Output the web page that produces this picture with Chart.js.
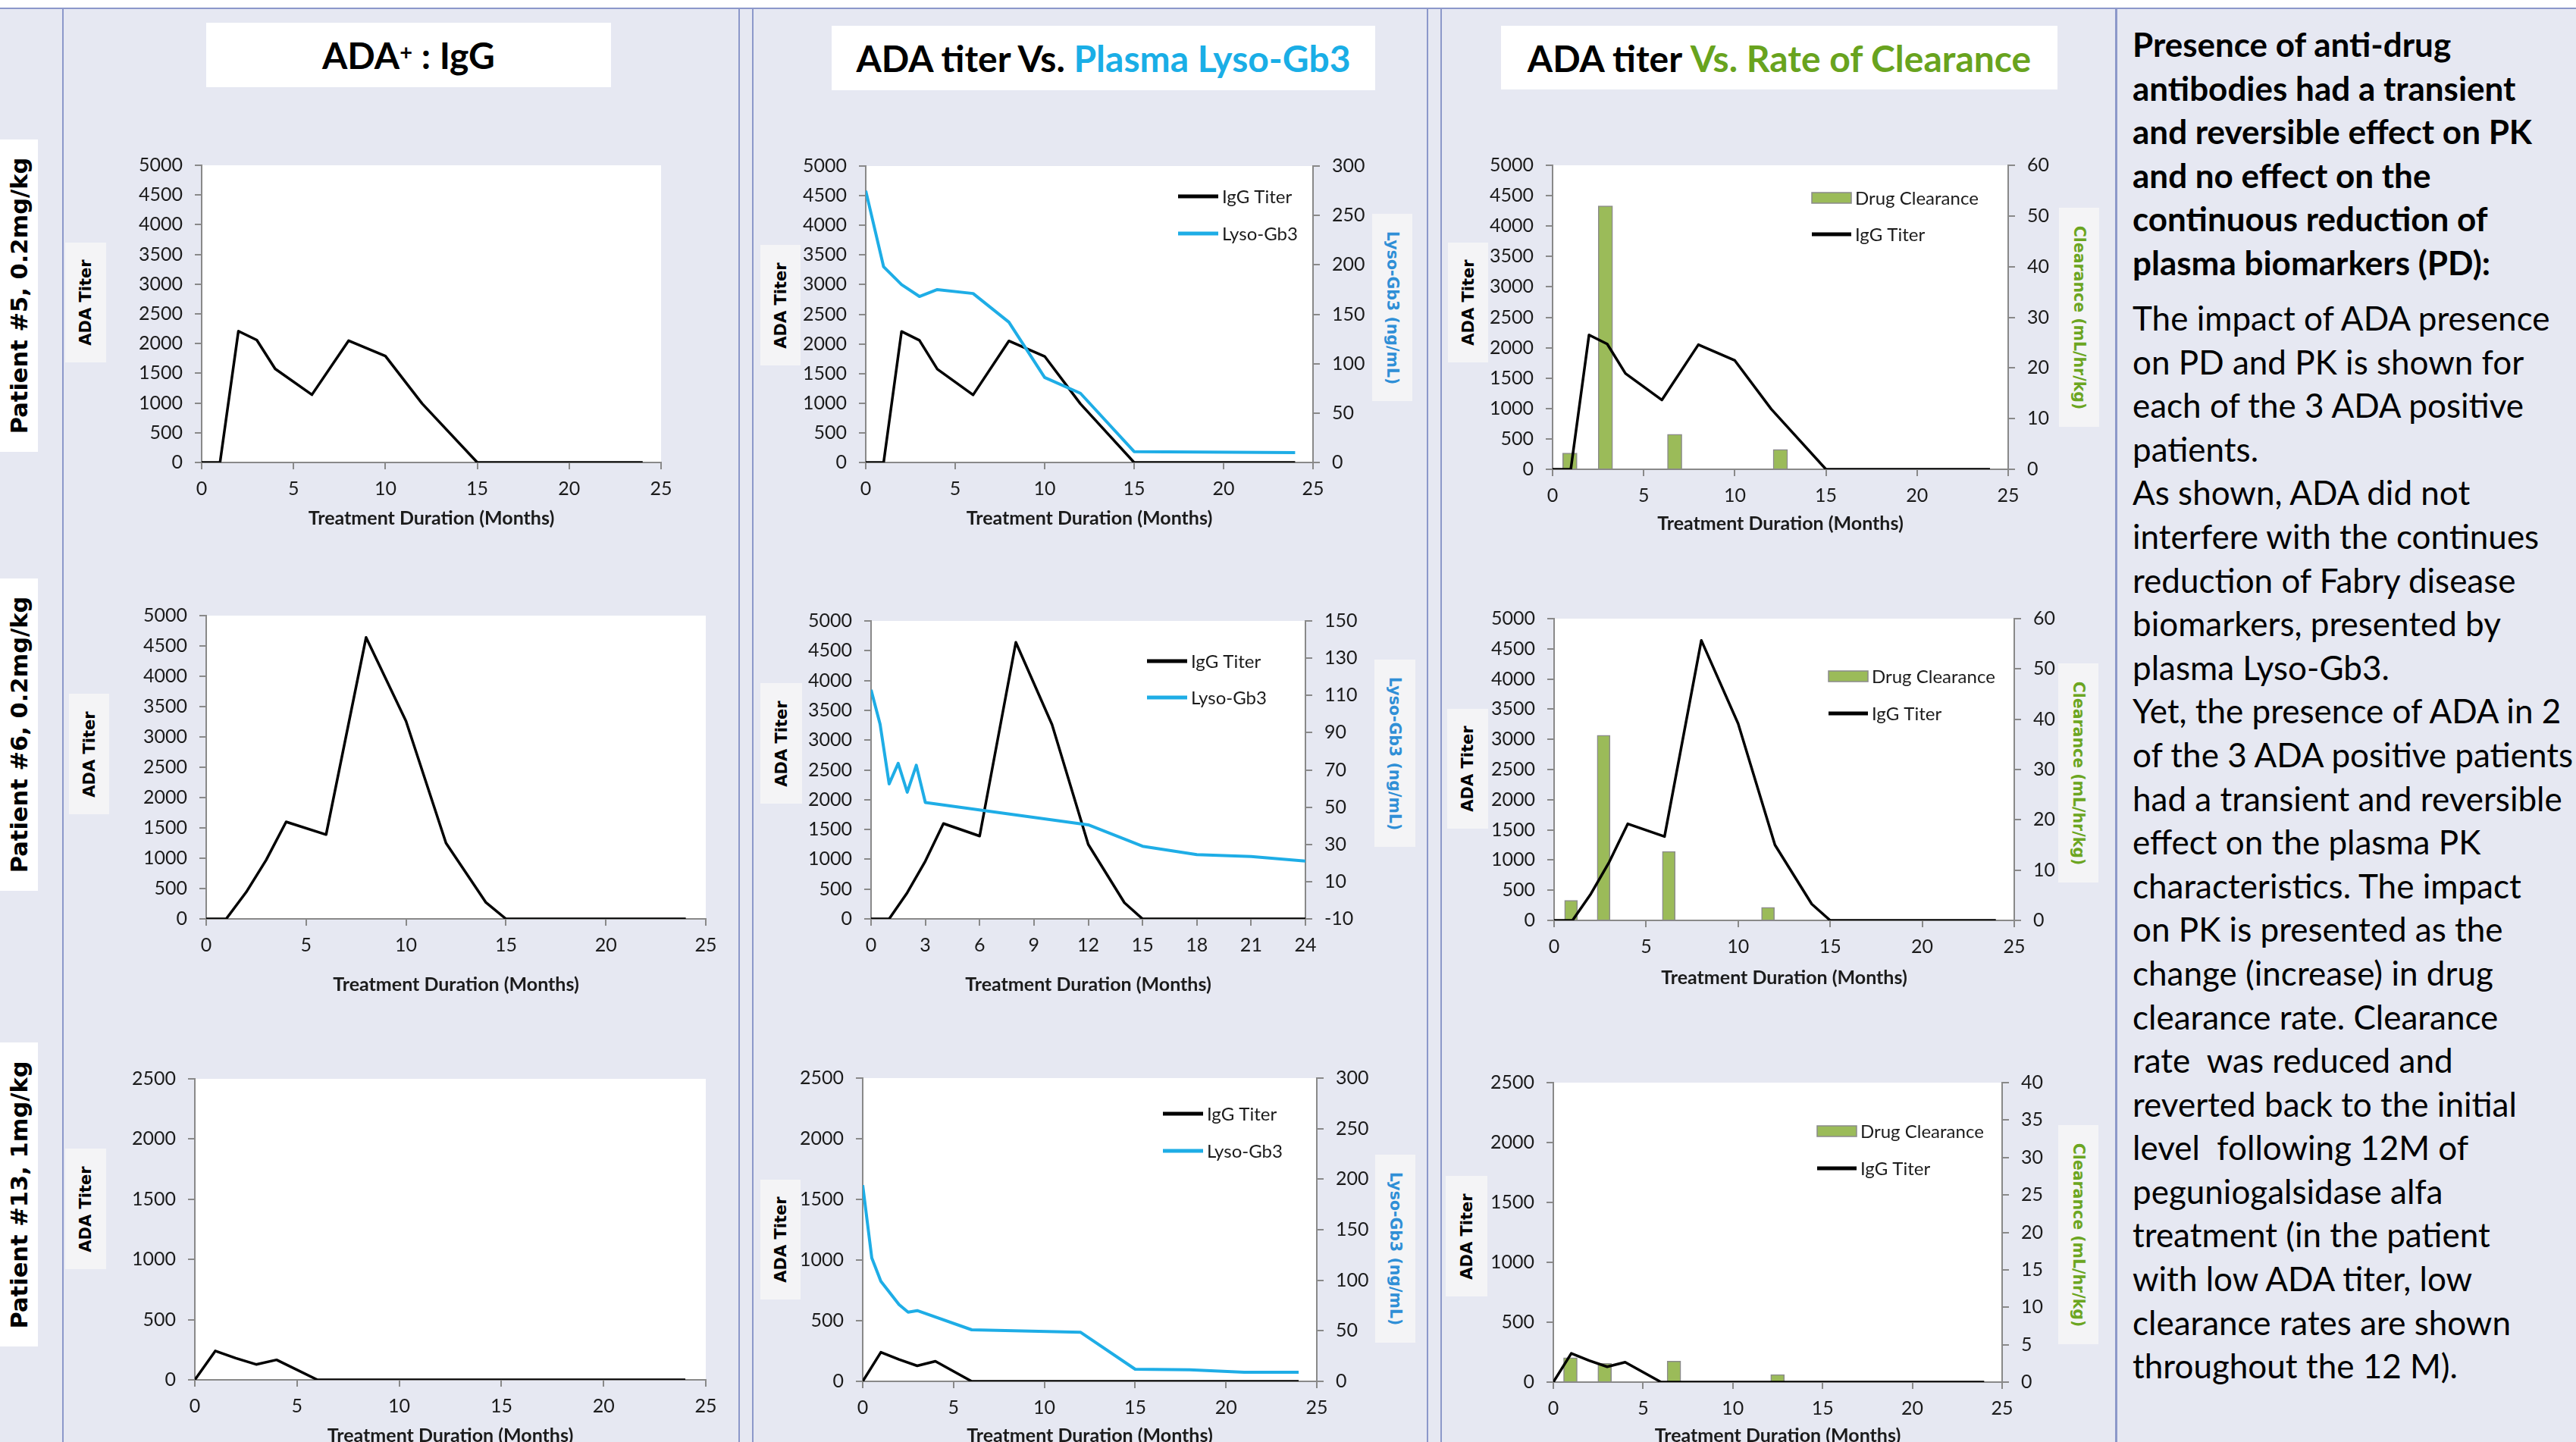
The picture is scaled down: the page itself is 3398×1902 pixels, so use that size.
<!DOCTYPE html>
<html lang="en">
<head>
<meta charset="utf-8">
<title>ADA titer, plasma Lyso-Gb3 and drug clearance in ADA positive patients</title>
<script src="https://cdn.jsdelivr.net/npm/chart.js@4.4.1/dist/chart.umd.min.js"></script>
<style>
  html, body { margin: 0; padding: 0; }
  body { width: 3398px; height: 1902px; overflow: hidden; background: #E6E8F2; position: relative; font-family: Lato, sans-serif; }
  .band { position: absolute; left: 0; top: 0; width: 3398px; height: 10px; background: #fff; }
  .rule { position: absolute; background: #8C98CA; }
  .head { position: absolute; background: #fff; display: flex; align-items: center; justify-content: center;
          font-family: Lato, sans-serif; font-weight: 700; font-size: 48px; color: #000; white-space: nowrap; }
  .head sup { font-size: 29px; line-height: 0; position: relative; top: -5px; }
  .tag { position: absolute; }
  .tag span { position: absolute; left: 50%; top: 50%; white-space: nowrap; font-family: 'DejaVu Sans', sans-serif; font-weight: bold; }
  .row { background: #fff; }
  .row span { font-size: 30.5px; color: #000; transform: translate(-50%, -50%) rotate(-90deg); }
  .yt { background: #F4F4F6; }
  .yt span { font-size: 21px; color: #000; transform: translate(-50%, -50%) rotate(-90deg); }
  .y2t { background: #F4F4F6; }
  .y2t span { font-size: 20.5px; transform: translate(-50%, -50%) rotate(90deg); }
  .blue { color: #1AAEE6; }
  .green { color: #68A31E; }
  .y2blue { color: #2F8FD6; }
  .y2green { color: #6BA521; }
  canvas { position: absolute; }
  .note { position: absolute; left: 2813px; font-size: 44px; line-height: 57.6px; color: #000; white-space: pre; font-family: Lato, sans-serif; }
  .note.bold { font-weight: 700; }
</style>
</head>
<body>
<div class="band"></div>
<div class="rule" style="left:0;top:10px;width:3398px;height:2px"></div>
<div class="rule" style="left:82px;top:11px;width:2px;height:1891px"></div>
<div class="rule" style="left:974px;top:11px;width:2px;height:1891px"></div>
<div class="rule" style="left:992px;top:11px;width:2px;height:1891px"></div>
<div class="rule" style="left:1882px;top:11px;width:2px;height:1891px"></div>
<div class="rule" style="left:1900px;top:11px;width:2px;height:1891px"></div>
<div class="rule" style="left:2790px;top:11px;width:3px;height:1891px"></div>

<!-- column headings -->
<div class="head" style="left:272px;top:30px;width:534px;height:85px">ADA<sup>+</sup>&nbsp;: IgG</div>
<div class="head" style="left:1097px;top:34px;width:717px;height:85px">ADA titer Vs.&nbsp;<span class="blue">Plasma Lyso-Gb3</span></div>
<div class="head" style="left:1980px;top:34px;width:734px;height:84px">ADA titer&nbsp;<span class="green">Vs. Rate of Clearance</span></div>

<!-- row labels -->
<div class="tag row" style="left:0;top:184px;width:50px;height:412px"><span>Patient #5, 0.2mg/kg</span></div>
<div class="tag row" style="left:0;top:763px;width:50px;height:412px"><span>Patient #6, 0.2mg/kg</span></div>
<div class="tag row" style="left:0;top:1375px;width:50px;height:401px"><span>Patient #13, 1mg/kg</span></div>

<!-- left axis titles -->
<div class="tag yt" style="left:86px;top:320px;width:54px;height:158px"><span>ADA Titer</span></div>
<div class="tag yt" style="left:1003px;top:323px;width:53px;height:159px"><span>ADA Titer</span></div>
<div class="tag yt" style="left:1910px;top:320px;width:53px;height:158px"><span>ADA Titer</span></div>
<div class="tag yt" style="left:91px;top:915px;width:53px;height:159px"><span>ADA Titer</span></div>
<div class="tag yt" style="left:1003px;top:901px;width:55px;height:159px"><span>ADA Titer</span></div>
<div class="tag yt" style="left:1909px;top:935px;width:54px;height:158px"><span>ADA Titer</span></div>
<div class="tag yt" style="left:86px;top:1515px;width:54px;height:159px"><span>ADA Titer</span></div>
<div class="tag yt" style="left:1003px;top:1556px;width:53px;height:158px"><span>ADA Titer</span></div>
<div class="tag yt" style="left:1907px;top:1551px;width:55px;height:159px"><span>ADA Titer</span></div>

<!-- right axis titles -->
<div class="tag y2t" style="left:1810px;top:282px;width:53px;height:247px"><span class="y2blue">Lyso-Gb3 (ng/mL)</span></div>
<div class="tag y2t" style="left:1813px;top:870px;width:54px;height:247px"><span class="y2blue">Lyso-Gb3 (ng/mL)</span></div>
<div class="tag y2t" style="left:1814px;top:1523px;width:53px;height:248px"><span class="y2blue">Lyso-Gb3 (ng/mL)</span></div>
<div class="tag y2t" style="left:2716px;top:274px;width:53px;height:289px"><span class="y2green">Clearance (mL/hr/kg)</span></div>
<div class="tag y2t" style="left:2715px;top:875px;width:53px;height:289px"><span class="y2green">Clearance (mL/hr/kg)</span></div>
<div class="tag y2t" style="left:2715px;top:1484px;width:53px;height:289px"><span class="y2green">Clearance (mL/hr/kg)</span></div>

<!-- summary text -->
<div class="note bold" style="top:30px">Presence of anti-drug
antibodies had a transient
and reversible effect on PK
and no effect on the
continuous reduction of
plasma biomarkers (PD):</div>
<div class="note" style="top:391px">The impact of ADA presence
on PD and PK is shown for
each of the 3 ADA positive
patients.
As shown, ADA did not
interfere with the continues
reduction of Fabry disease
biomarkers, presented by
plasma Lyso-Gb3.
Yet, the presence of ADA in 2
of the 3 ADA positive patients
had a transient and reversible
effect on the plasma PK
characteristics. The impact
on PK is presented as the
change (increase) in drug
clearance rate. Clearance
rate  was reduced and
reverted back to the initial
level  following 12M of
peguniogalsidase alfa
treatment (in the patient
with low ADA titer, low
clearance rates are shown
throughout the 12 M).</div>

<script>
// ---------- axis tick values ----------
const monthTicks = [0, 5, 10, 15, 20, 25];
const monthTicksBy3 = [0, 3, 6, 9, 12, 15, 18, 21, 24];
const titerTicksHigh = [0, 500, 1000, 1500, 2000, 2500, 3000, 3500, 4000, 4500, 5000];
const titerTicksLow = [0, 500, 1000, 1500, 2000, 2500];
const lysoTicks300 = [0, 50, 100, 150, 200, 250, 300];
const lysoTicksP6 = [-10, 10, 30, 50, 70, 90, 110, 130, 150];
const clearanceTicks60 = [0, 10, 20, 30, 40, 50, 60];
const clearanceTicks40 = [0, 5, 10, 15, 20, 25, 30, 35, 40];

// ---------- Patient #5, 0.2 mg/kg ----------
const p5Months = [0, 1, 2, 3, 4, 6, 8, 10, 12, 15, 24];
const p5IgG = [0, 0, 2210, 2060, 1575, 1140, 2050, 1790, 990, 0, 0];
const p5LysoMonths = [0, 1, 2, 3, 4, 6, 8, 10, 12, 15, 24];
const p5Lyso = [275, 198, 180, 168, 175, 171, 142, 86, 70, 11, 10];
const p5ClearanceMonths = [0.95, 2.9, 6.7, 12.5];
const p5Clearance = [3.2, 52, 6.9, 3.9];

// ---------- Patient #6, 0.2 mg/kg ----------
const p6Months = [0, 1, 2, 3, 4, 6, 8, 10, 12, 14, 15, 24];
const p6IgG = [0, 0, 440, 970, 1600, 1390, 4640, 3260, 1250, 270, 0, 0];
const p6LysoMonths = [0, 0.5, 1, 1.5, 2, 2.5, 3, 12, 15, 18, 21, 24];
const p6Lyso = [113, 94.5, 62.5, 73.5, 58, 72.5, 52.5, 40.5, 29, 24.5, 23.5, 21];
const p6ClearanceMonths = [0.92, 2.69, 6.23, 11.62];
const p6Clearance = [4.0, 36.8, 13.7, 2.6];

// ---------- Patient #13, 1 mg/kg ----------
const p13Months = [0, 1, 2, 3, 4, 6, 24];
const p13IgG = [0, 240, 180, 128, 166, 0, 0];
const p13LysoMonths = [0, 0.5, 1, 2, 2.5, 3, 6, 12, 15, 18, 21, 24];
const p13Lyso = [194, 122, 99, 76, 68.5, 70, 51, 48.5, 12, 11.5, 9, 9];
const p13ClearanceMonths = [0.95, 2.86, 6.72, 12.49];
const p13Clearance = [3.25, 2.5, 2.8, 1.0];

// ---------- styling ----------
const AXIS = '#898989';
const INK = '#1b1b1b';
const LYSO = '#1EADE6';
const BAR = '#9BBB59';
const BAR_EDGE = '#8A8A8A';
const TICK_SIZE = 25;
const TITLE_SIZE = 25;

Chart.defaults.font.family = 'Lato';

const pair = (xs, ys) => xs.map((x, i) => ({ x, y: ys[i] }));

// white plot area like a spreadsheet chart
Chart.register({
  id: 'plotFill',
  beforeDraw(chart) {
    const a = chart.chartArea, c = chart.ctx;
    c.save();
    c.fillStyle = '#ffffff';
    c.fillRect(a.left, a.top, a.right - a.left, a.bottom - a.top);
    c.restore();
  }
});

// legend drawn inside the plot area, upper right
const insideLegend = {
  id: 'insideLegend',
  afterDatasetsDraw(chart, args, opts) {
    const { ctx, chartArea } = chart;
    ctx.save();
    ctx.font = '24px Lato';
    ctx.textBaseline = 'middle';
    ctx.textAlign = 'left';
    opts.entries.forEach((label, i) => {
      const ds = chart.data.datasets.find(d => d.label === label);
      const x0 = chartArea.left + opts.x;
      const y = chartArea.top + opts.y + i * opts.gap;
      if (ds.type === 'bar') {
        ctx.fillStyle = ds.backgroundColor;
        ctx.fillRect(x0, y - 7, opts.w, 14);
        ctx.strokeStyle = ds.borderColor;
        ctx.lineWidth = 1.5;
        ctx.strokeRect(x0, y - 7, opts.w, 14);
      } else {
        ctx.strokeStyle = ds.borderColor;
        ctx.lineWidth = 5;
        ctx.beginPath();
        ctx.moveTo(x0, y);
        ctx.lineTo(x0 + opts.w, y);
        ctx.stroke();
      }
      ctx.fillStyle = INK;
      ctx.fillText(label, x0 + opts.w + 5, y + 1);
    });
    ctx.restore();
  }
};

function linearAxis(values, position) {
  return {
    type: 'linear',
    position,
    min: values[0],
    max: values[values.length - 1],
    afterBuildTicks: s => { s.ticks = values.map(v => ({ value: v })); },
    ticks: { color: INK, font: { family: 'Lato', size: TICK_SIZE }, padding: 16, autoSkip: false, maxRotation: 0, callback: v => String(v) },
    grid: { drawOnChartArea: false, drawTicks: true, tickLength: 9, color: AXIS, lineWidth: 2, offset: false },
    border: { display: true, color: AXIS, width: 2 }
  };
}

const iggLine = (xs, ys, order) => ({
  type: 'line', label: 'IgG Titer', data: pair(xs, ys), yAxisID: 'y', order,
  borderColor: '#000000', borderWidth: 3.5, pointRadius: 0, tension: 0, fill: false, borderJoinStyle: 'round'
});
const lysoLine = (xs, ys) => ({
  type: 'line', label: 'Lyso-Gb3', data: pair(xs, ys), yAxisID: 'y2', order: 0,
  borderColor: LYSO, borderWidth: 4, pointRadius: 0, tension: 0, fill: false, borderJoinStyle: 'round'
});
const clearanceBars = (xs, ys, thickness) => ({
  type: 'bar', label: 'Drug Clearance', data: pair(xs, ys), yAxisID: 'y2', order: 1,
  backgroundColor: BAR, borderColor: BAR_EDGE, borderWidth: 1.5, barThickness: thickness
});

// box: plot area edges (L, T, R, B) and the centre line of the x-axis title
function makeChart(box, datasets, axes, legend) {
  const leftW = 100, rightW = axes.y2 ? 100 : 40, topPad = 36;
  const xH = box.titleY - box.B + TITLE_SIZE * 0.6;
  const w = Math.round(box.R - box.L + leftW + rightW);
  const h = Math.round(box.B - box.T + topPad + xH);
  const cv = document.createElement('canvas');
  cv.width = w; cv.height = h;
  cv.style.left = (box.L - leftW) + 'px';
  cv.style.top = (box.T - topPad) + 'px';
  cv.style.width = w + 'px';
  cv.style.height = h + 'px';
  document.body.appendChild(cv);

  const x = linearAxis(axes.x, 'bottom');
  x.offset = false;
  x.ticks.padding = 11;
  x.title = { display: true, text: 'Treatment Duration (Months)', color: INK,
              font: { family: 'Lato', size: TITLE_SIZE, weight: 'bold', lineHeight: 1.2 }, padding: 0 };
  x.afterFit = s => { s.height = xH; };
  const y = linearAxis(axes.y, 'left');
  y.afterFit = s => { s.width = leftW; };
  const scales = { x, y };
  if (axes.y2) {
    const y2 = linearAxis(axes.y2, 'right');
    y2.afterFit = s => { s.width = rightW; };
    scales.y2 = y2;
  }

  return new Chart(cv, {
    type: 'line',
    data: { datasets },
    options: {
      responsive: false,
      animation: false,
      devicePixelRatio: 1,
      layout: { padding: { left: 0, top: topPad, right: axes.y2 ? 0 : rightW, bottom: 0 } },
      scales,
      plugins: { legend: { display: false }, tooltip: { enabled: false }, insideLegend: legend || {} }
    },
    plugins: legend ? [insideLegend] : []
  });
}

// ---------- row 1: patient #5 ----------
makeChart({ L: 266, T: 218, R: 872, B: 610, titleY: 684 },
  [iggLine(p5Months, p5IgG, 0)],
  { x: monthTicks, y: titerTicksHigh });

makeChart({ L: 1142, T: 219, R: 1732, B: 610, titleY: 684 },
  [iggLine(p5Months, p5IgG, 1), lysoLine(p5LysoMonths, p5Lyso)],
  { x: monthTicks, y: titerTicksHigh, y2: lysoTicks300 },
  { entries: ['IgG Titer', 'Lyso-Gb3'], x: 412, y: 40, w: 53, gap: 49 });

makeChart({ L: 2048, T: 218, R: 2649, B: 619, titleY: 691 },
  [iggLine(p5Months, p5IgG, 0), clearanceBars(p5ClearanceMonths, p5Clearance, 19)],
  { x: monthTicks, y: titerTicksHigh, y2: clearanceTicks60 },
  { entries: ['Drug Clearance', 'IgG Titer'], x: 342, y: 43, w: 52, gap: 48 });

// ---------- row 2: patient #6 ----------
makeChart({ L: 272, T: 812, R: 931, B: 1212, titleY: 1299 },
  [iggLine(p6Months, p6IgG, 0)],
  { x: monthTicks, y: titerTicksHigh });

makeChart({ L: 1149, T: 819, R: 1722, B: 1212, titleY: 1299 },
  [iggLine(p6Months, p6IgG, 1), lysoLine(p6LysoMonths, p6Lyso)],
  { x: monthTicksBy3, y: titerTicksHigh, y2: lysoTicksP6 },
  { entries: ['IgG Titer', 'Lyso-Gb3'], x: 364, y: 53, w: 53, gap: 48 });

makeChart({ L: 2050, T: 816, R: 2657, B: 1214, titleY: 1290 },
  [iggLine(p6Months, p6IgG, 0), clearanceBars(p6ClearanceMonths, p6Clearance, 17)],
  { x: monthTicks, y: titerTicksHigh, y2: clearanceTicks60 },
  { entries: ['Drug Clearance', 'IgG Titer'], x: 362, y: 76, w: 52, gap: 49 });

// ---------- row 3: patient #13 ----------
makeChart({ L: 257, T: 1423, R: 931, B: 1820, titleY: 1894 },
  [iggLine(p13Months, p13IgG, 0)],
  { x: monthTicks, y: titerTicksLow });

makeChart({ L: 1138, T: 1422, R: 1737, B: 1822, titleY: 1894 },
  [iggLine(p13Months, p13IgG, 1), lysoLine(p13LysoMonths, p13Lyso)],
  { x: monthTicks, y: titerTicksLow, y2: lysoTicks300 },
  { entries: ['IgG Titer', 'Lyso-Gb3'], x: 396, y: 47, w: 53, gap: 49 });

makeChart({ L: 2049, T: 1428, R: 2641, B: 1823, titleY: 1894 },
  [iggLine(p13Months, p13IgG, 0), clearanceBars(p13ClearanceMonths, p13Clearance, 18)],
  { x: monthTicks, y: titerTicksLow, y2: clearanceTicks40 },
  { entries: ['Drug Clearance', 'IgG Titer'], x: 348, y: 64, w: 52, gap: 49 });
</script>
</body>
</html>
